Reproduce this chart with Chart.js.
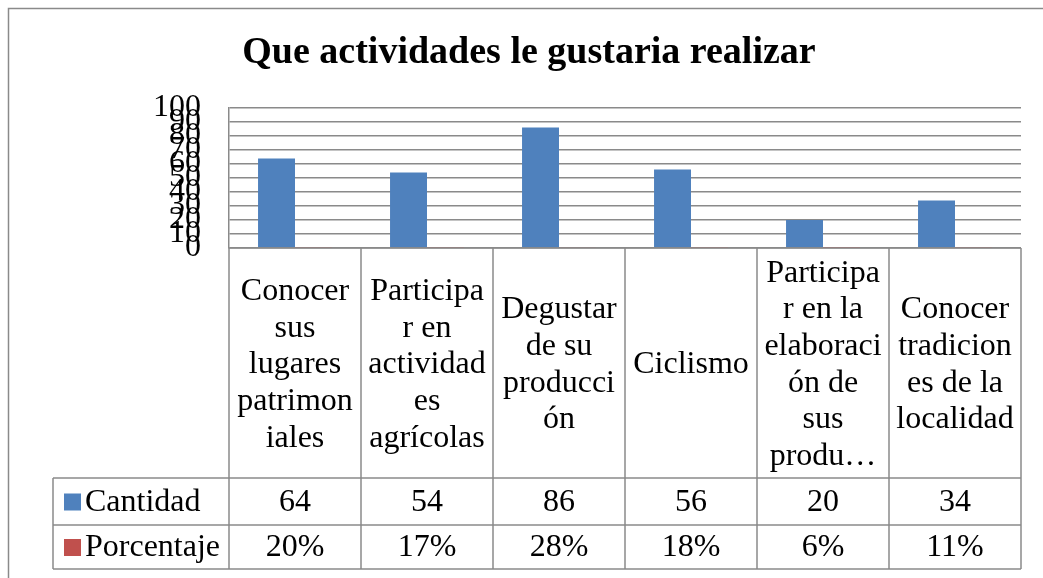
<!DOCTYPE html>
<html>
<head>
<meta charset="utf-8">
<script src="https://cdn.jsdelivr.net/npm/chart.js@4"></script>
<style>
    html, body { margin: 0; padding: 0; background: #fff; overflow: hidden; }
    .chart-box { width: 1043px; height: 578px; position: relative; }
</style>
</head>
<body>
<div class="chart-box"><canvas id="chart-bars"></canvas></div>
<script>
// categories as they appear wrapped in the data table
const categories = [
    ['Conocer', 'sus', 'lugares', 'patrimon', 'iales'],
    ['Participa', 'r en', 'actividad', 'es', 'agrícolas'],
    ['Degustar', 'de su', 'producci', 'ón'],
    ['Ciclismo'],
    ['Participa', 'r en la', 'elaboraci', 'ón de', 'sus', 'produ…'],
    ['Conocer', 'tradicion', 'es de la', 'localidad']
];
const cantidad = [64, 54, 86, 56, 20, 34];
const porcentaje = [0.20, 0.17, 0.28, 0.18, 0.06, 0.11];
const porcentajeLabels = ['20%', '17%', '28%', '18%', '6%', '11%'];
const yTicks = [0, 10, 20, 30, 40, 50, 60, 70, 80, 90, 100];
const titleText = 'Que actividades le gustaria realizar';

const serif = '"Liberation Serif", "Times New Roman", serif';
const lineColor = '#8a8a8a';
const blue = '#4f81bd';
const red = '#c0504d';

const tablePlugin = {
    id: 'dataTable',
    beforeDraw(chart) {
        const ctx = chart.ctx;
        ctx.save();
        ctx.fillStyle = '#fff';
        ctx.fillRect(0, 0, chart.width, chart.height);
        // outer frame of the chart object
        ctx.strokeStyle = lineColor;
        ctx.lineWidth = 1.5;
        ctx.strokeRect(8.5, 8.5, chart.width + 20, chart.height + 20);
        ctx.restore();
    },
    afterDraw(chart) {
        const { ctx, chartArea: a, scales: { x } } = chart;
        const n = categories.length;
        const colW = (a.right - a.left) / n;
        const rowTop = 478, row1 = 525, row2 = 569, legendLeft = 53;
        ctx.save();

        // title
        ctx.fillStyle = '#000';
        ctx.font = 'bold 38px ' + serif;
        ctx.textAlign = 'center';
        ctx.textBaseline = 'middle';
        ctx.fillText(titleText, 529, 53);

        // table lines
        ctx.strokeStyle = lineColor;
        ctx.lineWidth = 1.5;
        ctx.beginPath();
        ctx.moveTo(a.left, a.bottom); ctx.lineTo(a.right, a.bottom);
        [rowTop, row1, row2].forEach(y => { ctx.moveTo(legendLeft, y); ctx.lineTo(a.right, y); });
        ctx.moveTo(legendLeft, rowTop); ctx.lineTo(legendLeft, row2);
        for (let i = 0; i <= n; i++) {
            const xx = a.left + i * colW;
            ctx.moveTo(xx, a.bottom); ctx.lineTo(xx, row2);
        }
        ctx.stroke();

        // category labels
        ctx.fillStyle = '#000';
        ctx.font = '32px ' + serif;
        const lh = 36.7;
        const mid = (a.bottom + rowTop) / 2 + 2;
        categories.forEach((lines, i) => {
            const cx = x.getPixelForValue(i);
            const y0 = mid - (lines.length - 1) * lh / 2;
            lines.forEach((t, j) => ctx.fillText(t, cx, y0 + j * lh));
        });

        // values
        const r1 = (rowTop + row1) / 2 + 1, r2 = (row1 + row2) / 2 + 1;
        cantidad.forEach((v, i) => ctx.fillText(String(v), x.getPixelForValue(i), r1));
        porcentajeLabels.forEach((v, i) => ctx.fillText(v, x.getPixelForValue(i), r2));

        // legend keys
        ctx.textAlign = 'left';
        chart.data.datasets.forEach((ds, k) => {
            const cy = k === 0 ? r1 : r2;
            ctx.fillStyle = ds.backgroundColor;
            ctx.fillRect(64, cy - 9, 17, 17);
            ctx.fillStyle = '#000';
            ctx.fillText(ds.label, 85, cy);
        });
        ctx.restore();
    }
};

const chartBars = document.querySelector('#chart-bars');
new Chart(chartBars.getContext('2d'), {
    type: 'bar',
    data: {
        labels: categories,
        datasets: [{
            label: 'Cantidad',
            data: cantidad,
            backgroundColor: blue,
            categoryPercentage: 0.56,
            barPercentage: 1
        }, {
            label: 'Porcentaje',
            data: porcentaje,
            backgroundColor: red,
            categoryPercentage: 0.56,
            barPercentage: 1
        }]
    },
    options: {
        responsive: true,
        maintainAspectRatio: false,
        animation: false,
        layout: { padding: { top: 108, right: 22, bottom: 330, left: 0 } },
        plugins: {
            legend: { display: false },
            tooltip: { enabled: false }
        },
        scales: {
            x: { display: false },
            y: {
                min: yTicks[0],
                max: yTicks[yTicks.length - 1],
                afterFit: s => { s.width = 229; },
                afterBuildTicks: s => { s.ticks = yTicks.map(v => ({ value: v })); },
                ticks: {
                    autoSkip: false,
                    padding: 28,
                    color: '#000',
                    font: { family: serif, size: 32 }
                },
                grid: { color: lineColor, lineWidth: 1.5, drawTicks: false },
                border: { display: true, color: lineColor, width: 1.5 }
            }
        }
    },
    plugins: [tablePlugin]
});
</script>
</body>
</html>
